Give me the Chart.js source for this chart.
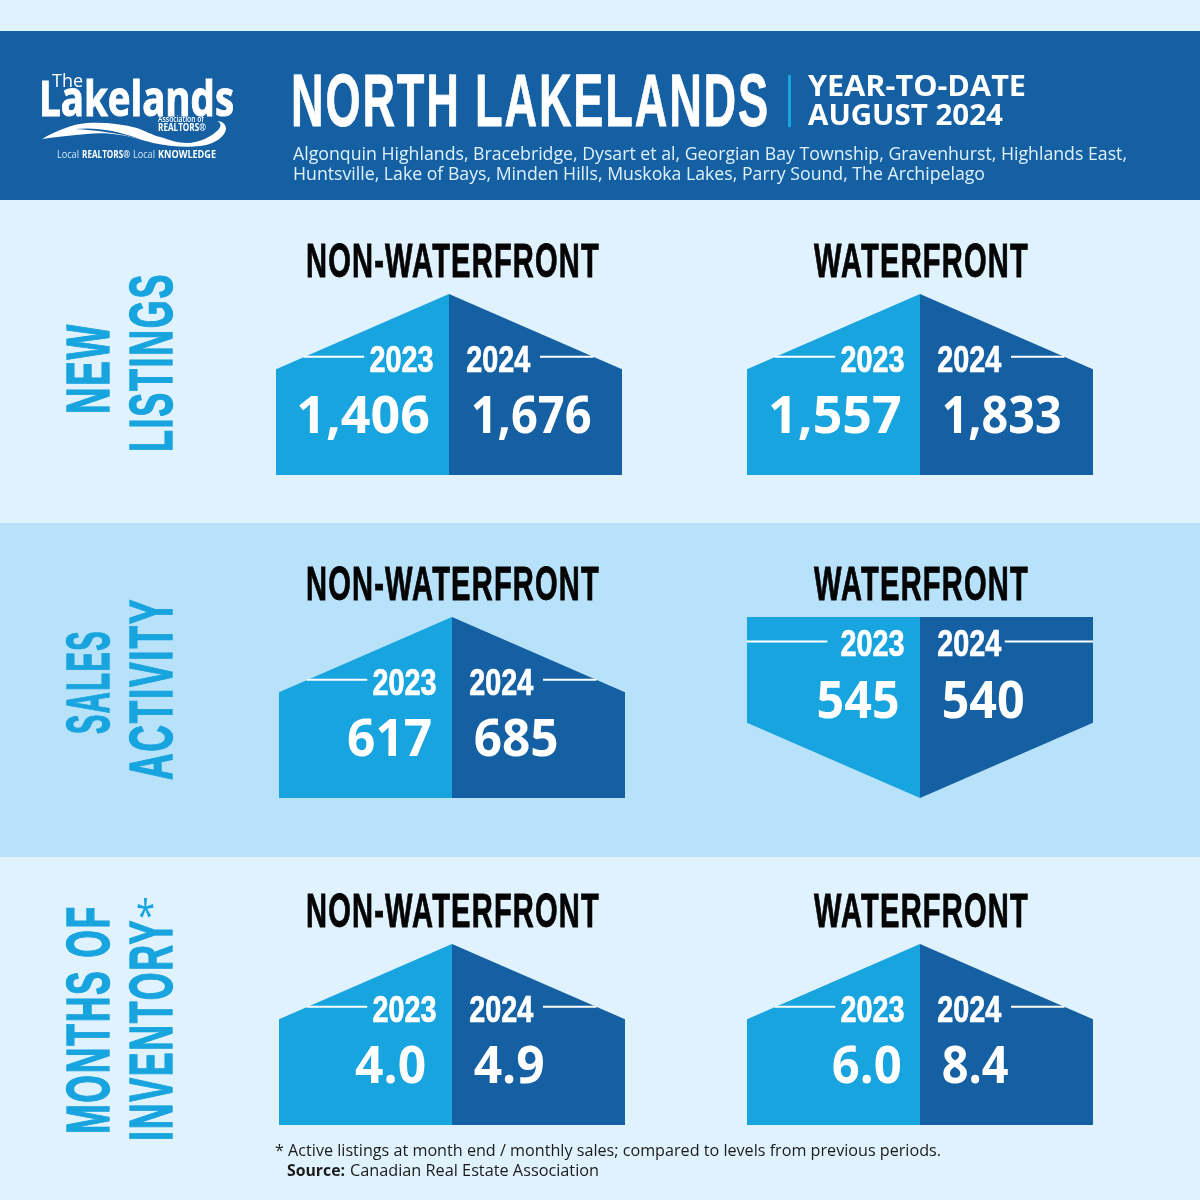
<!DOCTYPE html>
<html>
<head>
<meta charset="utf-8">
<title>North Lakelands year-to-date August 2024</title>
<script src="https://cdn.jsdelivr.net/npm/chart.js@4"></script>
<style>
  html, body { margin: 0; padding: 0; background: #dff2fd; }
  #page { position: relative; width: 1200px; height: 1200px; overflow: hidden; background: #dff2fd; }
  .band { position: absolute; left: 0; width: 1200px; }
  #page canvas { position: absolute; }
  #overlay { position: absolute; left: 0; top: 0; }
</style>
</head>
<body>
<div id="page">
  <div class="band" style="top:31px;height:169px;background:#1560a3"></div>
  <div class="band" style="top:523px;height:334px;background:#b7e2fa"></div>
  <svg id="overlay" width="1200" height="1200" xmlns="http://www.w3.org/2000/svg">
    <!-- logo waves -->
    <path fill="#fff" d="M42,139 C56,131 72,124 87,123 C105,122 122,124 137,128 C146,131 152,135 160,137 C170,140 178,143 187,143 C199,143 213,136 219,129 C222,125 220,122 217,121 C222,121 226,124 226,129 C225,137 213,145 200,146 C186,148 168,146 153,143 C142,140 130,136 120,135 C108,133 98,133 87,134 C72,135 56,137 42,139 Z"/>
    <path fill="#1560a3" d="M75,129 C95,127 115,130 140,139 C118,133 95,130 75,129 Z"/>
    <rect x="788" y="75" width="3" height="52" fill="#18a4de"/>
  </svg>
</div>

<script>
/* -------------------------------------------------------------------------- */
/*                                    data                                    */
/* -------------------------------------------------------------------------- */
const years = ["2023", "2024"];
const sections = ["NON-WATERFRONT", "WATERFRONT"];
const nonWaterfront2023 = [1406, 617, 4.0];
const nonWaterfront2024 = [1676, 685, 4.9];
const waterfront2023 = [1557, 545, 6.0];
const waterfront2024 = [1833, 540, 8.4];
const decimals = [0, 0, 1];

/* -------------------------------------------------------------------------- */
/*                                   layout                                   */
/* -------------------------------------------------------------------------- */
const lightBlue = "#18a4de";
const darkBlue = "#1560a3";
const condensed = "'Liberation Sans Narrow', 'Liberation Sans', sans-serif";
const humanist = "'Open Sans', 'Noto Sans', sans-serif";

const rowTops = [294, 617, 944];
const titleBaselines = [277, 600, 927];
const panelLefts = [[276, 279, 279], [747, 747, 747]];
const valueGaps = [[-0.11, -0.115, -0.15], [-0.105, -0.118, -0.105]]; // where the 2023 number ends
const valueWidths = [[[134, 121], [85, 85], [71, 71]], [[134, 120], [83, 83], [70, 67]]];
const panelWidth = 346;
const panelHeight = 181;

// house outline in axis units (x -1..1, y 0..1)
const roofEdge = 0.584;
const upShape = { value: 0.232, year: 0.569, rule: 0.654, ruleLeft: [-0.84, -0.49], ruleRight: [0.526, 0.835] };
const downShape = { value: 0.442, year: 0.785, rule: 0.864, ruleLeft: [-1, -0.536], ruleRight: [0.49, 1] };

/* -------------------------------------------------------------------------- */
/*                                overlay text                                */
/* -------------------------------------------------------------------------- */
const overlay = document.querySelector("#overlay");

function addText(str, x, y, width, size, fill, opts = {}) {
  const t = document.createElementNS("http://www.w3.org/2000/svg", "text");
  t.textContent = str;
  t.setAttribute("fill", fill);
  t.setAttribute("font-family", opts.font || condensed);
  t.setAttribute("font-size", size);
  t.setAttribute("font-weight", opts.weight || 700);
  // letter spacing also trails the last glyph, so it counts towards the length
  t.setAttribute("textLength", width + (opts.spacing || 0));
  t.setAttribute("lengthAdjust", "spacingAndGlyphs");
  if (opts.spacing) t.setAttribute("letter-spacing", opts.spacing);
  if (opts.stroke) {
    t.setAttribute("stroke", fill);
    t.setAttribute("stroke-width", opts.stroke);
  }
  t.setAttribute("transform", `translate(${x},${y})` + (opts.vertical ? " rotate(-90)" : ""));
  overlay.appendChild(t);
}

// logo
addText("The", 52, 87, 31, 18, "#fff", { font: humanist, weight: 400 });
addText("Lakelands", 39, 116, 195, 48, "#fff", { font: humanist, stroke: 1 });
addText("Association of", 158, 122, 46, 8, "#fff", { font: humanist, weight: 600 });
addText("REALTORS®", 158, 131, 48, 10, "#fff", { font: humanist });
addText("Local", 57, 158, 22, 10, "#d5e9f6", { font: humanist, weight: 400 });
addText("REALTORS®", 82, 158, 48, 10, "#fff", { font: humanist });
addText("Local", 133, 158, 22, 10, "#d5e9f6", { font: humanist, weight: 400 });
addText("KNOWLEDGE", 158, 158, 58, 10, "#fff", { font: humanist });

// header
addText("NORTH LAKELANDS", 291, 126, 476, 74, "#fff", { stroke: 0.8, spacing: 3 });
addText("YEAR-TO-DATE", 808, 96, 218, 29, "#fff", { font: humanist });
addText("AUGUST 2024", 808, 125, 195, 29, "#fff", { font: humanist });
addText("Algonquin Highlands, Bracebridge, Dysart et al, Georgian Bay Township, Gravenhurst, Highlands East,", 293, 159.5, 834, 18, "#dff2fd", { font: humanist, weight: 400 });
addText("Huntsville, Lake of Bays, Minden Hills, Muskoka Lakes, Parry Sound, The Archipelago", 293, 179.5, 692, 18, "#dff2fd", { font: humanist, weight: 400 });

// row labels
const rowLabelStyle = { vertical: true, stroke: 1.4, spacing: 3 };
addText("NEW", 109, 414, 88, 62, lightBlue, rowLabelStyle);
addText("LISTINGS", 172, 452, 176, 62, lightBlue, rowLabelStyle);
addText("SALES", 109, 734, 101, 62, lightBlue, rowLabelStyle);
addText("ACTIVITY", 172, 780, 179, 62, lightBlue, rowLabelStyle);
addText("MONTHS OF", 109, 1134, 226, 62, lightBlue, rowLabelStyle);
addText("INVENTORY", 172, 1141, 219, 62, lightBlue, rowLabelStyle);
addText("*", 136, 931, 19, 44, lightBlue, { font: humanist, weight: 400 });

// section titles
titleBaselines.forEach((y) => {
  addText(sections[0], 306, y, 292, 49, "#050505", { stroke: 0.9, spacing: 2 });
  addText(sections[1], 814, y, 213, 49, "#050505", { stroke: 0.9, spacing: 2 });
});

// footnote
addText("* Active listings at month end / monthly sales; compared to levels from previous periods.", 275, 1156, 666, 16, "#1b1b1b", { font: humanist, weight: 400 });
addText("Source:", 287, 1176, 58, 16, "#1b1b1b", { font: humanist });
addText("Canadian Real Estate Association", 350, 1176, 249, 16, "#1b1b1b", { font: humanist, weight: 400 });

/* -------------------------------------------------------------------------- */
/*                                house panels                                */
/* -------------------------------------------------------------------------- */
// 숫자와 연도 라벨은 스케일 위치를 따라 그린다
const houseLabels = {
  id: "houseLabels",
  afterDatasetsDraw(chart, args, opts) {
    const { ctx, scales } = chart;
    const s = opts.shape;
    ctx.save();
    ctx.fillStyle = "#fff";
    ctx.strokeStyle = "#fff";
    ctx.lineWidth = 0.7;
    ctx.textBaseline = "alphabetic";

    ctx.font = `700 36px ${condensed}`;
    const yearY = scales.y.getPixelForValue(s.year);
    ctx.textAlign = "right";
    ctx.fillText(years[0], scales.x.getPixelForValue(-0.09), yearY, 64);
    ctx.strokeText(years[0], scales.x.getPixelForValue(-0.09), yearY, 64);
    ctx.textAlign = "left";
    ctx.fillText(years[1], scales.x.getPixelForValue(0.1), yearY, 64);
    ctx.strokeText(years[1], scales.x.getPixelForValue(0.1), yearY, 64);

    ctx.font = `700 52px ${humanist}`;
    const valueY = scales.y.getPixelForValue(s.value);
    ctx.textAlign = "right";
    ctx.fillText(opts.labels[0], scales.x.getPixelForValue(opts.gap), valueY, opts.widths[0]);
    ctx.textAlign = "left";
    ctx.fillText(opts.labels[1], scales.x.getPixelForValue(0.125), valueY, opts.widths[1]);
    ctx.restore();
  },
};

function createHouse(left, top, before, after, digits, gap, widths) {
  const canvas = document.createElement("canvas");
  canvas.width = panelWidth;
  canvas.height = panelHeight;
  canvas.style.left = left + "px";
  canvas.style.top = top + "px";
  document.querySelector("#page").insertBefore(canvas, overlay);

  // 2024 below 2023 flips the house upside down
  const rising = after >= before;
  const shape = rising ? upShape : downShape;
  const edge = rising ? roofEdge : 1 - roofEdge;
  const tip = rising ? 1 : 0;
  const fill = rising ? "start" : "end";

  const side = (color, from, to) => ({
    data: [{ x: from, y: from === 0 ? tip : edge }, { x: to, y: to === 0 ? tip : edge }],
    backgroundColor: color,
    borderWidth: 0,
    pointRadius: 0,
    tension: 0,
    fill,
  });
  const rule = (range) => ({
    data: [{ x: range[0], y: shape.rule }, { x: range[1], y: shape.rule }],
    borderColor: "#fff",
    borderWidth: 2,
    pointRadius: 0,
    fill: false,
  });

  new Chart(canvas, {
    type: "line",
    data: {
      // Chart.js paints the first dataset last, so the rules go first
      datasets: [rule(shape.ruleLeft), rule(shape.ruleRight), side(lightBlue, -1, 0), side(darkBlue, 0, 1)],
    },
    options: {
      responsive: false,
      animation: false,
      layout: { padding: 0 },
      scales: {
        x: { type: "linear", min: -1, max: 1, display: false },
        y: { min: 0, max: 1, display: false },
      },
      plugins: {
        legend: { display: false },
        tooltip: { enabled: false },
        houseLabels: {
          shape,
          gap,
          widths,
          labels: [before, after].map((v) => v.toLocaleString("en-CA", { minimumFractionDigits: digits, maximumFractionDigits: digits })),
        },
      },
    },
    plugins: [houseLabels],
  });
}

rowTops.forEach((top, i) => {
  createHouse(panelLefts[0][i], top, nonWaterfront2023[i], nonWaterfront2024[i], decimals[i], valueGaps[0][i], valueWidths[0][i]);
  createHouse(panelLefts[1][i], top, waterfront2023[i], waterfront2024[i], decimals[i], valueGaps[1][i], valueWidths[1][i]);
});
</script>
</body>
</html>
